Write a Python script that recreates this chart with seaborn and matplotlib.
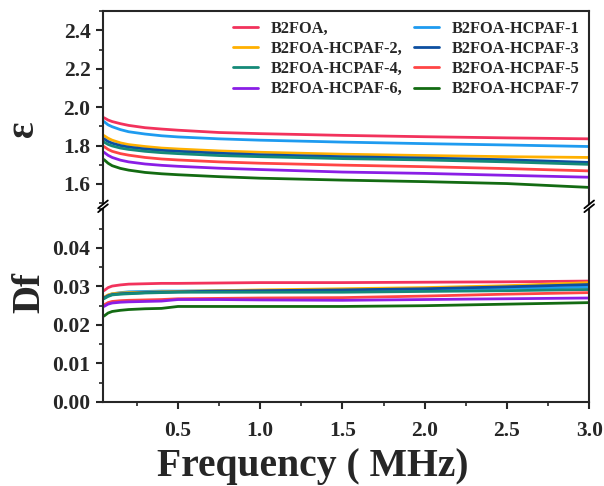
import numpy as np
import pandas as pd
import matplotlib
matplotlib.use("Agg")
import matplotlib.pyplot as plt
from matplotlib.ticker import MultipleLocator
import seaborn as sns

# frequency (MHz)
freq = [0.05, 0.075, 0.1, 0.15, 0.2, 0.3, 0.4, 0.5, 0.75, 1.0, 1.5, 2.0, 2.5, 3.0]

samples = ["B2FOA,", "B2FOA-HCPAF-1", "B2FOA-HCPAF-2,", "B2FOA-HCPAF-3",
           "B2FOA-HCPAF-4,", "B2FOA-HCPAF-5", "B2FOA-HCPAF-6,", "B2FOA-HCPAF-7"]
colors = ["#F2325C", "#1E9BF0", "#FFB000", "#0D4FA0",
          "#158A78", "#FF4545", "#8A1EE6", "#136B12"]

# dielectric constant
eps_b2foa = [1.945, 1.933, 1.925, 1.914, 1.905, 1.893, 1.886, 1.880, 1.868, 1.862, 1.853, 1.846, 1.840, 1.835]
eps_1 = [1.925, 1.908, 1.898, 1.883, 1.872, 1.860, 1.851, 1.845, 1.835, 1.828, 1.818, 1.810, 1.803, 1.795]
eps_2 = [1.852, 1.838, 1.828, 1.814, 1.805, 1.795, 1.787, 1.782, 1.772, 1.765, 1.755, 1.748, 1.742, 1.738]
eps_3 = [1.835, 1.821, 1.812, 1.800, 1.792, 1.782, 1.775, 1.770, 1.760, 1.752, 1.742, 1.735, 1.726, 1.712]
eps_4 = [1.818, 1.806, 1.798, 1.787, 1.780, 1.770, 1.763, 1.758, 1.748, 1.742, 1.732, 1.725, 1.715, 1.702]
eps_5 = [1.795, 1.780, 1.770, 1.758, 1.750, 1.738, 1.730, 1.725, 1.715, 1.708, 1.698, 1.690, 1.680, 1.668]
eps_6 = [1.765, 1.749, 1.738, 1.724, 1.715, 1.704, 1.697, 1.692, 1.682, 1.675, 1.662, 1.655, 1.645, 1.635]
eps_7 = [1.727, 1.708, 1.695, 1.681, 1.672, 1.660, 1.653, 1.648, 1.638, 1.630, 1.620, 1.612, 1.602, 1.582]

# dielectric loss
df_b2foa = [0.0289, 0.0297, 0.0301, 0.0304, 0.0306, 0.0307, 0.0308, 0.0308, 0.0309, 0.0310, 0.0310, 0.0311, 0.0312, 0.0314]
df_1 = [0.0270, 0.0277, 0.0281, 0.0284, 0.0286, 0.0287, 0.0288, 0.0288, 0.0289, 0.0289, 0.0290, 0.0292, 0.0295, 0.0298]
df_2 = [0.0272, 0.0278, 0.0281, 0.0283, 0.0284, 0.0285, 0.0286, 0.0287, 0.0289, 0.0291, 0.0294, 0.0297, 0.0302, 0.0310]
df_3 = [0.0270, 0.0276, 0.0279, 0.0281, 0.0282, 0.0284, 0.0285, 0.0286, 0.0288, 0.0289, 0.0291, 0.0294, 0.0299, 0.0305]
df_4 = [0.0268, 0.0274, 0.0278, 0.0280, 0.0281, 0.0283, 0.0284, 0.0285, 0.0285, 0.0285, 0.0285, 0.0287, 0.0289, 0.0292]
df_5 = [0.0252, 0.0258, 0.0261, 0.0263, 0.0264, 0.0265, 0.0266, 0.0268, 0.0269, 0.0270, 0.0271, 0.0275, 0.0280, 0.0284]
df_6 = [0.0248, 0.0254, 0.0257, 0.0259, 0.0260, 0.0261, 0.0262, 0.0266, 0.0266, 0.0265, 0.0264, 0.0266, 0.0268, 0.0270]
df_7 = [0.0223, 0.0231, 0.0235, 0.0238, 0.0240, 0.0242, 0.0243, 0.0248, 0.0248, 0.0248, 0.0248, 0.0250, 0.0254, 0.0258]

eps_all = [eps_b2foa, eps_1, eps_2, eps_3, eps_4, eps_5, eps_6, eps_7]
df_all = [df_b2foa, df_1, df_2, df_3, df_4, df_5, df_6, df_7]

sns.set_theme(style="ticks")
plt.rcParams["font.family"] = ["Liberation Serif", "DejaVu Serif"]
plt.rcParams["font.weight"] = "bold"
plt.rcParams["axes.linewidth"] = 1.5

fig = plt.figure(figsize=(6.04, 4.86), dpi=100)
ax1 = fig.add_axes([0.1705, 0.582, 0.805, 0.395])
ax2 = fig.add_axes([0.1705, 0.173, 0.805, 0.396])

for name, c, e, d in zip(samples, colors, eps_all, df_all):
    sns.lineplot(x=freq, y=e, ax=ax1, color=c, linewidth=2.0, label=name)
    sns.lineplot(x=freq, y=d, ax=ax2, color=c, linewidth=2.0, legend=False)

ax1.set_xlim(0.044, 3.0)
ax2.set_xlim(0.044, 3.0)
ax1.set_ylim(1.5, 2.5)
ax2.set_ylim(0.0, 0.05)

ax1.spines["bottom"].set_visible(False)
ax2.spines["top"].set_visible(False)
ax1.tick_params(axis="x", which="both", bottom=False, labelbottom=False)

for ax in (ax1, ax2):
    ax.tick_params(axis="both", which="major", direction="out", length=5, width=1.5, labelsize=15.5)
    ax.tick_params(axis="both", which="minor", direction="out", length=3, width=1.2)
    ax.tick_params(axis="x", which="both", top=False)
    ax.tick_params(axis="y", which="both", right=False)
    ax.tick_params(axis="y", which="major", pad=4)
ax2.tick_params(axis="x", which="major", pad=9)

ax1.yaxis.set_minor_locator(MultipleLocator(0.1))
ax2.yaxis.set_minor_locator(MultipleLocator(0.005))
ax2.xaxis.set_minor_locator(MultipleLocator(0.25))
ax1.set_yticks([1.6, 1.8, 2.0, 2.2, 2.4])
ax1.set_yticklabels(["1.6", "1.8", "2.0", "2.2", "2.4"], fontweight="bold")
ax2.set_yticks([0.0, 0.01, 0.02, 0.03, 0.04])
ax2.set_yticklabels(["0.00", "0.01", "0.02", "0.03", "0.04"], fontweight="bold")
ax2.set_xticks([0.5, 1.0, 1.5, 2.0, 2.5, 3.0])
ax2.set_xticklabels(["0.5", "1.0", "1.5", "2.0", "2.5", "3.0"], fontweight="bold")

ax1.set_ylabel("ε", fontsize=28, fontweight="bold")
ax2.set_ylabel("Df", fontsize=28, fontweight="bold")
ax2.set_xlabel("Frequency ( MHz)", fontsize=28.5, fontweight="bold")
ax1.yaxis.set_label_coords(-0.125, 0.39)
ax2.yaxis.set_label_coords(-0.112, 0.57)
ax2.xaxis.set_label_coords(0.432, -0.24)

# break marks on both side spines
gap_y = (0.582 + 0.569) / 2
for xf in (0.1705, 0.1705 + 0.805):
    for dy in (-0.004, 0.004):
        fig.add_artist(plt.Line2D([xf - 0.008, xf + 0.008], [gap_y + dy - 0.008, gap_y + dy + 0.008],
                                  color="black", linewidth=1.3, transform=fig.transFigure))

handles, labels = ax1.get_legend_handles_labels()
order = [0, 2, 4, 6, 1, 3, 5, 7]
ax1.legend([handles[i] for i in order], [labels[i] for i in order], ncol=2, frameon=False,
           loc="upper right", bbox_to_anchor=(1.0, 1.0), prop={"weight": "bold", "size": 11.8},
           handlelength=1.5, columnspacing=0.7, labelspacing=0.25, handletextpad=0.8,
           borderaxespad=0.2)

fig.savefig("out.png", dpi=100)
